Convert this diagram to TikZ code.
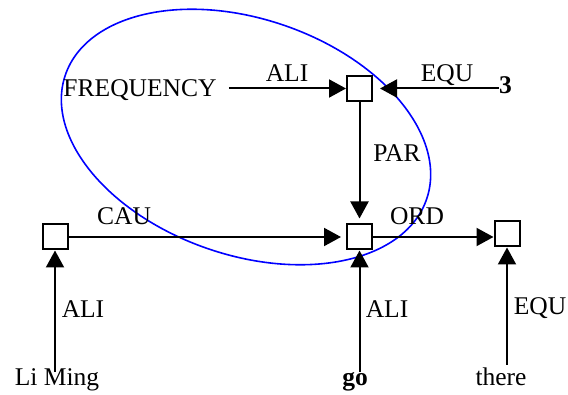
\documentclass[tikz,border=0pt]{standalone}
\usepackage{fontspec}
\setmainfont{Liberation Serif}
\usetikzlibrary{arrows.meta}

\begin{document}
\begin{tikzpicture}[x=0.5pt, y=-0.5pt, every node/.style={font=\fontsize{12.75}{15}\selectfont}]

\def\boxsize{12.5pt}
\def\tipgap{2.5pt}

% ---------- styles ----------
\tikzset{
  conbox/.style={draw, line width=1pt, minimum size=\boxsize, inner sep=0pt, fill=white},
  word/.style={inner sep=0pt, anchor=base, text height=0.7em, text depth=0.22em},
  rel/.style={
    -{Triangle[length=8.5pt, width=9pt]},
    line width=1pt
  },
  ring/.style={draw=blue, line width=0.8pt}
}

\useasboundingbox (0,0) rectangle (568,395);

% ---------- the ring round the group ----------
\coordinate (ringc) at (246, 137);
\draw[ring, rotate around={-19:(ringc)}] (ringc) ellipse [x radius=95.5pt, y radius=59pt];

% ---------- concept boxes ----------
\node[conbox] (T) at (359.5, 88.5) {};
\node[conbox] (L) at (55, 237) {};
\node[conbox] (M) at (359.5, 237) {};
\node[conbox] (R) at (507, 234) {};

% ---------- words ----------
\node[word] (freq)   at (140, 97)   {FREQUENCY};
\node[word] (three)  at (505.5, 94) {\textbf{3}};
\node[word] (liming) at (57, 386)   {Li Ming};
\node[word] (go)     at (355, 386)  {\textbf{go}};
\node[word] (there)  at (501, 386)  {there};

% ---------- relations ----------
\draw[rel, shorten <=6pt] (freq.east |- T) -- (T.west);
\draw[rel, shorten >=3.5pt] (three.west |- T) -- (T.east);
\draw[rel, shorten >=\tipgap] (T.south) -- (M.north);
\draw[rel, shorten >=\tipgap] (L.east) -- (M.west);
\draw[rel] (M.east) -- (R.west |- M);

\draw[rel] (liming.north -| L) -- (L.south);
\draw[rel] (go.north -| M) -- (M.south);
\draw[rel, shorten <=3.5pt] (there.north -| R) -- (R.south);

% ---------- relation labels ----------
\foreach \name/\x/\y/\txt in {
  ali-top/287/82/ALI, equ-top/447/82/EQU, par/397/162/PAR,
  cau/124/225/CAU, ord/417/225/ORD,
  ali-left/83/318/ALI, ali-mid/387/318/ALI, equ-right/540/315/EQU
} {
  \node[word] (\name) at (\x, \y) {\txt};
}

\end{tikzpicture}
\end{document}
